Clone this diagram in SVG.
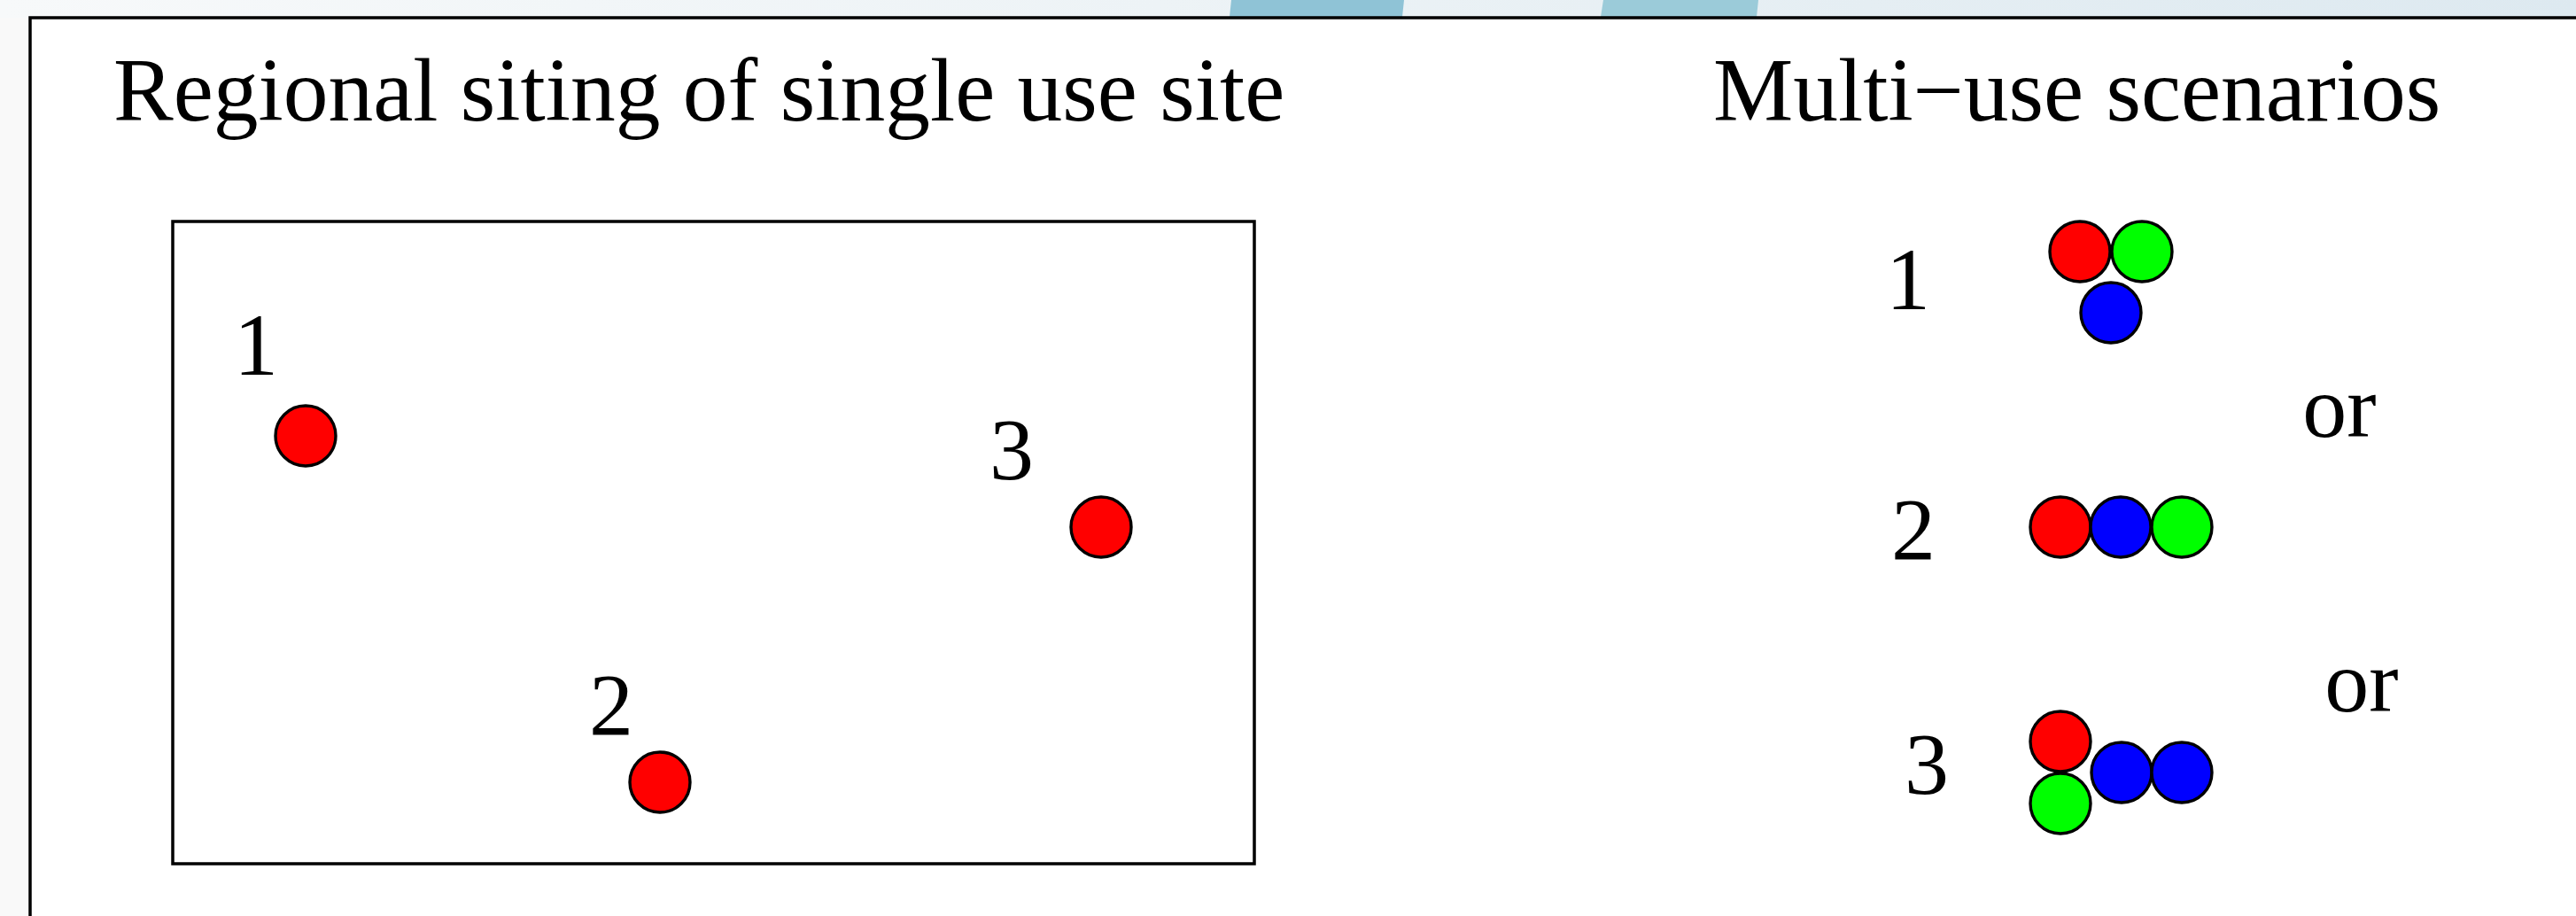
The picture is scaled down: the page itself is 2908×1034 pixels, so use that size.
<svg xmlns="http://www.w3.org/2000/svg" width="2908" height="1034" viewBox="0 0 2908 1034">
<defs>
<linearGradient id="topbg" x1="0" y1="0" x2="1" y2="0">
<stop offset="0" stop-color="#f7f9fa"/>
<stop offset="0.45" stop-color="#edf3f6"/>
<stop offset="1" stop-color="#dde9f0"/>
</linearGradient>
<style>
.t{font-family:"Liberation Serif","Times New Roman",serif;font-size:100px;fill:#000}
.h{font-size:101.5px}
.frame{fill:#fff;stroke:#000;stroke-width:3.5}
.box{fill:none;stroke:#000;stroke-width:3.5}
.c{stroke:#000;stroke-width:3.4}
.r{fill:#ff0000}.g{fill:#00ff00}.b{fill:#0000ff}
</style>
</defs>
<g id="background">
<rect x="0" y="0" width="2908" height="1034" fill="#f9f9f9"/>
<rect x="0" y="0" width="2908" height="20" fill="url(#topbg)"/>
<polygon points="1390,0 1585,0 1583,19 1388,19" fill="#8fc3d6"/>
<polygon points="1810,0 1985,0 1983,19 1807,19" fill="#9bcbd9"/>
<rect x="34" y="20" width="2900" height="1040" class="frame"/>
</g>
<g id="titles">
<text class="t h" x="128" y="136">Regional siting of single use site</text>
<text class="t h" x="1934" y="136">Multi−use scenarios</text>
</g>
<g id="region-map">
<rect x="195" y="250" width="1221" height="725" class="box"/>
</g>
<g id="site-1">
<text class="t" x="289" y="423" text-anchor="middle">1</text>
<circle class="c r" cx="345" cy="492" r="34"/>
</g>
<g id="site-2">
<text class="t" x="690" y="829" text-anchor="middle">2</text>
<circle class="c r" cx="745" cy="883" r="34"/>
</g>
<g id="site-3">
<text class="t" x="1142" y="541" text-anchor="middle">3</text>
<circle class="c r" cx="1243" cy="595" r="34"/>
</g>
<g id="scenario-1">
<text class="t" x="2154" y="349" text-anchor="middle">1</text>
<circle class="c r" cx="2348" cy="284" r="34"/>
<circle class="c g" cx="2418" cy="284" r="34"/>
<circle class="c b" cx="2383" cy="353" r="34"/>
</g>
<g id="or-1">
<text class="t" x="2641" y="493" text-anchor="middle">or</text>
</g>
<g id="scenario-2">
<text class="t" x="2160" y="631" text-anchor="middle">2</text>
<circle class="c r" cx="2326" cy="595" r="34"/>
<circle class="c b" cx="2394" cy="595" r="34"/>
<circle class="c g" cx="2463" cy="595" r="34"/>
</g>
<g id="or-2">
<text class="t" x="2666" y="803" text-anchor="middle">or</text>
</g>
<g id="scenario-3">
<text class="t" x="2175" y="896" text-anchor="middle">3</text>
<circle class="c r" cx="2326" cy="837" r="34"/>
<circle class="c g" cx="2326" cy="907" r="34"/>
<circle class="c b" cx="2395" cy="872" r="34"/>
<circle class="c b" cx="2463" cy="872" r="34"/>
</g>
<g id="connectors"/>
</svg>
